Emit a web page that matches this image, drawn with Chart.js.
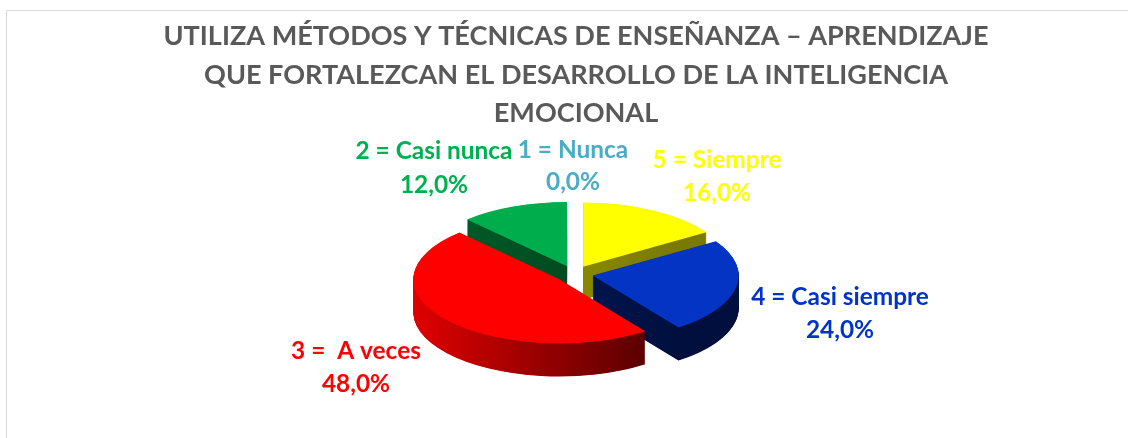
<!DOCTYPE html>
<html><head><meta charset="utf-8">
<script src="https://cdn.jsdelivr.net/npm/chart.js@4/dist/chart.umd.min.js"></script>
<style>html,body{margin:0;padding:0;background:#fff;overflow:hidden}#wrap{width:1128px;height:438px;position:relative}</style>
</head><body><div id="wrap"><canvas id="c" width="1128" height="438"></canvas></div>
<script>
// ---- data ----
const categories = ['5 = Siempre', '4 = Casi siempre', '3 =  A veces', '2 = Casi nunca', '1 = Nunca'];
const percentages = [16.0, 24.0, 48.0, 12.0, 0.0];
const titleLines = ['UTILIZA MÉTODOS Y TÉCNICAS DE ENSEÑANZA – APRENDIZAJE',
                    'QUE FORTALEZCAN EL DESARROLLO DE LA INTELIGENCIA',
                    'EMOCIONAL'];

// ---- style ----
const topColors = ['#ffff00', '#0434c4', '#ff0000', '#00ad4c', '#4bacc6'];
const labelColors = ['#ffff00', '#0033cc', '#ff0000', '#00b050', '#4bacc6'];
const sideColors = [['#a0a000', '#7a7a00'], ['#001d66', '#000f3d'], ['#e00000', '#5a0000'], ['#00602a', '#003d1a'], ['#2a7a90', '#1b5566']];
const labelPos = [[717, 168, 201], [840, 305, 338], [356, 359, 392], [434, 159, 193], [573, 158, 190]];
const titleBaselines = [45, 84, 122];
const FONT = 'Lato, "Open Sans", sans-serif';
const TILT = 0.44, EXPLODE = 19, DEPTH = 33;
const CX = 574, CY = 274, R = 146;

const pie3d = {
  id: 'pie3d',
  beforeDraw(chart) {
    const ctx = chart.ctx;
    ctx.save();
    ctx.fillStyle = '#fff';
    ctx.fillRect(0, 0, chart.width, chart.height);
    ctx.strokeStyle = '#d9d9d9';
    ctx.lineWidth = 1;
    ctx.beginPath();
    ctx.moveTo(6.5, chart.height);
    ctx.lineTo(6.5, 10.5);
    ctx.lineTo(chart.width, 10.5);
    ctx.stroke();
    ctx.restore();
  },
  beforeDatasetDraw(chart, args) {
    const ctx = chart.ctx;
    const arcs = args.meta.data;
    if (!arcs.length) return;
    const cy = arcs[0].y;
    ctx.save();
    ctx.translate(0, cy);
    ctx.scale(1, TILT);
    ctx.translate(0, -cy);
    const drawOne = (arc, dy, fill) => {
      const half = (arc.startAngle + arc.endAngle) / 2;
      ctx.save();
      ctx.translate(Math.cos(half) * EXPLODE, Math.sin(half) * EXPLODE + dy);
      const orig = arc.options;
      if (fill) arc.options = Object.assign({}, orig, {backgroundColor: fill});
      arc.draw(ctx);
      arc.options = orig;
      ctx.restore();
    };
    const grads = arcs.map((arc, i) => {
      const g = ctx.createLinearGradient(arc.x - arc.outerRadius, 0, arc.x + arc.outerRadius * 0.6, 0);
      g.addColorStop(0, sideColors[i][0]);
      g.addColorStop(1, sideColors[i][1]);
      return g;
    });
    for (let s = DEPTH; s >= 0.5; s -= 0.5) {
      arcs.forEach((arc, i) => drawOne(arc, s / TILT, grads[i]));
    }
    arcs.forEach((arc) => drawOne(arc, 0, null));
    ctx.restore();
    return false;
  },
  afterDraw(chart) {
    const ctx = chart.ctx;
    ctx.save();
    ctx.textAlign = 'center';
    ctx.textBaseline = 'alphabetic';
    // title
    ctx.font = 'bold 100px ' + FONT;
    const tw = ctx.measureText(titleLines[0]).width;
    const tsize = 100 * 825 / tw;
    ctx.font = 'bold ' + tsize.toFixed(2) + 'px ' + FONT;
    ctx.fillStyle = '#595959';
    titleLines.forEach((t, i) => ctx.fillText(t, 576, titleBaselines[i]));
    // labels
    ctx.font = 'bold 100px ' + FONT;
    const lw = ctx.measureText(categories[3]).width;
    const lsize = 100 * 157 / lw;
    ctx.font = 'bold ' + lsize.toFixed(2) + 'px ' + FONT;
    categories.forEach((c, i) => {
      const p = labelPos[i];
      ctx.fillStyle = labelColors[i];
      ctx.fillText(c, p[0], p[1]);
      ctx.fillText(percentages[i].toFixed(1).replace('.', ',') + '%', p[0], p[2]);
    });
    ctx.restore();
  }
};

new Chart(document.getElementById('c'), {
  type: 'pie',
  data: {
    labels: categories,
    datasets: [{
      data: percentages,
      backgroundColor: topColors,
      borderWidth: 0,
      clip: false
    }]
  },
  options: {
    responsive: false,
    animation: false,
    layout: {padding: {left: CX - 274, right: 1128 - (CX + 274), top: CY - R, bottom: 438 - (CY + R)}},
    plugins: {legend: {display: false}, tooltip: {enabled: false}, title: {display: false}}
  },
  plugins: [pie3d]
});
</script>
</body></html>
